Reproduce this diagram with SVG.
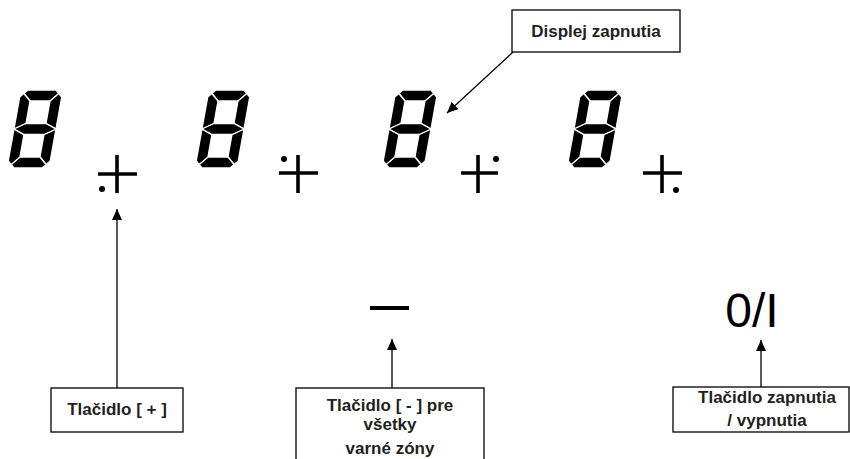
<svg xmlns="http://www.w3.org/2000/svg" xmlns:xlink="http://www.w3.org/1999/xlink" width="850" height="459" viewBox="0 0 850 459">
<style>
  .seg { fill: #000; stroke: #fff; stroke-width: 1.3; stroke-linejoin: miter; }
  .sym { stroke: #000; stroke-width: 3.6; fill: none; }
  .dot { fill: #000; }
  .box { fill: #fff; stroke: #000; stroke-width: 1.3; }
  .lbl { font-family: "Liberation Sans", Arial, sans-serif; font-weight: bold; font-size: 17px; fill: #231f20; text-anchor: middle; }
  .big { font-family: "Liberation Sans", Arial, sans-serif; font-size: 48px; fill: #000; text-anchor: middle; }
  .con { stroke: #000; stroke-width: 1.3; fill: none; marker-end: url(#arr); }
</style>
<defs>
  <marker id="arr" markerUnits="userSpaceOnUse" markerWidth="12" markerHeight="10" refX="11" refY="5" orient="auto">
    <path d="M0,0 L11,5 L0,10 z" fill="#000"/>
  </marker>
  <g id="digit">
    <polygon class="seg" points="3.5,3.5 7,0 35,0 38.5,3.5 31,11 11,11"/>
    <polygon class="seg" points="38.5,3.5 42,7 42,39 31,33.5 31,11"/>
    <polygon class="seg" points="42,39 42,71 38.5,74.5 31,67 31,44.5"/>
    <polygon class="seg" points="11,67 31,67 38.5,74.5 35,78 7,78 3.5,74.5"/>
    <polygon class="seg" points="0,39 11,44.5 11,67 3.5,74.5 0,71"/>
    <polygon class="seg" points="0,7 3.5,3.5 11,11 11,33.5 0,39"/>
    <polygon class="seg" points="0,39 11,33.5 31,33.5 42,39 31,44.5 11,44.5"/>
  </g>
</defs>
<rect width="850" height="459" fill="#fff"/>

<g id="digit1"><use xlink:href="#digit" href="#digit" transform="matrix(1,0,-0.18,1,21,90)"/></g>
<g id="digit2"><use xlink:href="#digit" href="#digit" transform="matrix(1,0,-0.18,1,209,90)"/></g>
<g id="digit3"><use xlink:href="#digit" href="#digit" transform="matrix(1,0,-0.18,1,396,90)"/></g>
<g id="digit4"><use xlink:href="#digit" href="#digit" transform="matrix(1,0,-0.18,1,581,90)"/></g>

<g id="plus1">
  <path class="sym" d="M117,155 V193 M98,174 H137"/>
  <circle class="dot" cx="102" cy="189" r="3"/>
</g>
<g id="plus2">
  <path class="sym" d="M298,155 V193 M279,173 H318"/>
  <circle class="dot" cx="284" cy="159" r="3"/>
</g>
<g id="plus3">
  <path class="sym" d="M478,155 V193 M461,173 H498"/>
  <circle class="dot" cx="496" cy="159" r="3"/>
</g>
<g id="plus4">
  <path class="sym" d="M662,155 V193 M643,173 H682"/>
  <circle class="dot" cx="676" cy="190" r="3"/>
</g>

<g id="minus"><rect x="370" y="306" width="39" height="4" fill="#000"/></g>
<g id="onoff"><text class="big" x="752" y="327">0/I</text></g>

<g id="connectors">
  <line class="con" x1="117" y1="388" x2="117" y2="209"/>
  <line class="con" x1="392" y1="388" x2="392" y2="339"/>
  <line class="con" x1="761" y1="387" x2="761" y2="340"/>
  <line class="con" x1="513" y1="52" x2="447" y2="113"/>
</g>

<g id="box-displej">
  <rect class="box" x="512" y="10" width="168" height="42"/>
  <text class="lbl" x="596" y="37">Displej zapnutia</text>
</g>
<g id="box-plus">
  <rect class="box" x="51" y="388" width="132" height="44"/>
  <text class="lbl" x="117" y="415">Tlačidlo [ + ]</text>
</g>
<g id="box-minus">
  <rect class="box" x="296" y="388" width="188" height="80"/>
  <text class="lbl" x="390" y="411">Tlačidlo [ - ] pre</text>
  <text class="lbl" x="390" y="430">všetky</text>
  <text class="lbl" x="390" y="454">varné zóny</text>
</g>
<g id="box-onoff">
  <rect class="box" x="673" y="387" width="176" height="45"/>
  <text class="lbl" x="767" y="403">Tlačidlo zapnutia</text>
  <text class="lbl" x="767" y="426">/ vypnutia</text>
</g>
</svg>
